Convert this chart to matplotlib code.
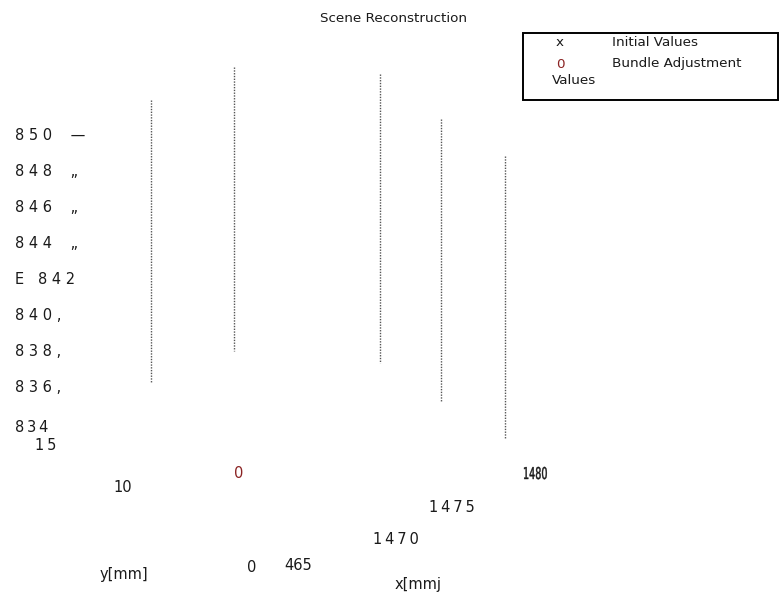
import matplotlib
matplotlib.use("Agg")
from matplotlib import pyplot as plt
from matplotlib.patches import Rectangle, PathPatch
from matplotlib.textpath import TextPath
from matplotlib.transforms import Affine2D

# camera track segments (vertical dotted traces)
track_x = [151.3, 233.7, 379.7, 441.3, 505.3]
track_top = [100, 67, 74, 119, 156]
track_bottom = [383, 351, 363, 402, 439]

# y axis tick labels as they were rendered
ytick_labels = ["8 5 0    \u2014", "8 4 8    \u201e", "8 4 6    \u201e", "8 4 4    \u201e",
                "E   8 4 2", "8 4 0 ,", "8 3 8 ,", "8 3 6 ,", "8\u20093\u20094"]
ytick_pos = [135, 171, 207, 243, 279, 315, 352, 388, 427]

# leftover bottom tick labels
xtick_labels = ["1\u20095", "10", "1\u20094\u20097\u20095", "1\u20094\u20097\u20090", "0", "465"]
xtick_pos = [(35, 446), (113, 487), (429, 508), (373, 539), (247, 567), (284, 566)]

red = "#8b2323"
ink = "#1a1a1a"
fs = 10.5

fig = plt.figure(figsize=(7.79, 5.93), dpi=100)
ax = fig.add_axes([0, 0, 1, 1])
ax.set_xlim(0, 779)
ax.set_ylim(593, 0)
ax.axis("off")

ax.vlines(track_x, track_top, track_bottom, colors="#555555",
          linestyles=(0, (1, 1)), linewidth=1.0)

ax.text(394, 18, "Scene Reconstruction", ha="center", va="center", fontsize=9.7, color=ink)

for lab, y in zip(ytick_labels, ytick_pos):
    ax.text(15, y, lab, ha="left", va="center", fontsize=fs, color=ink)

for lab, (x, y) in zip(xtick_labels, xtick_pos):
    ax.text(x, y, lab, ha="left", va="center", fontsize=fs, color=ink)

# squeezed "1480" label
px = fs * 100 / 72
tp = TextPath((0, 0), "1480", size=px)
squeeze = Affine2D().scale(0.66, -1.12).translate(523, 479)
ax.add_patch(PathPatch(tp, transform=squeeze + ax.transData,
                       facecolor=ink, edgecolor=ink, linewidth=0.3))

ax.text(234, 473, "0", ha="left", va="center", fontsize=fs, color=red)
ax.text(100, 574, "y[mm]", ha="left", va="center", fontsize=fs, color=ink)
ax.text(395, 585, "x[mmj", ha="left", va="center", fontsize=fs, color=ink)

# legend box
ax.add_patch(Rectangle((523, 33), 255, 67, fill=False, edgecolor="black", linewidth=1.4))
ax.text(556, 43, "x", ha="left", va="center", fontsize=9.7, color=ink)
ax.text(612, 43, "Initial Values", ha="left", va="center", fontsize=9.7, color=ink)
ax.text(556, 64, "0", ha="left", va="center", fontsize=9.7, color=red)
ax.text(612, 64, "Bundle Adjustment", ha="left", va="center", fontsize=9.7, color=ink)
ax.text(552, 80, "Values", ha="left", va="center", fontsize=9.7, color=ink)

fig.savefig("out.png", dpi=100)
